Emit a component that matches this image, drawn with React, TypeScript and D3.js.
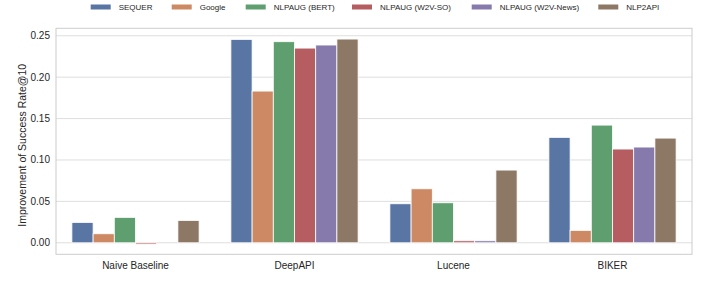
import * as d3 from 'd3';

const categories = ['Naive Baseline', 'DeepAPI', 'Lucene', 'BIKER'];
const methods = ['SEQUER', 'Google', 'NLPAUG (BERT)', 'NLPAUG (W2V-SO)', 'NLPAUG (W2V-News)', 'NLP2API'];
const colors = ['#5975a4', '#cc8963', '#5f9e6e', '#b55d60', '#857aab', '#8d7866'];

// one array per method, values in category order
const sequer = [0.0246, 0.2456, 0.0471, 0.1273];
const google = [0.0109, 0.1832, 0.0652, 0.015];
const nlpaugBert = [0.0307, 0.2428, 0.0483, 0.1421];
const nlpaugW2vSo = [-0.0016, 0.2351, 0.0024, 0.1132];
const nlpaugW2vNews = [0.0, 0.2388, 0.0024, 0.1156];
const nlp2api = [0.027, 0.246, 0.0878, 0.1264];
const series = [sequer, google, nlpaugBert, nlpaugW2vSo, nlpaugW2vNews, nlp2api];

const yTicks = [0, 0.05, 0.1, 0.15, 0.2, 0.25];

const W = 706;
const H = 283;
const plot = { left: 56, right: 692, top: 28.3, bottom: 254.3 };
const font = 'Liberation Sans, Arial, sans-serif';

// legend swatch positions
const legendX = [90.7, 171.7, 245.7, 352, 471.7, 598.3];

export default function App() {
  const x = d3.scaleBand<string>().domain(categories).range([plot.left, plot.right]);
  const inner = d3
    .scaleBand<string>()
    .domain(methods)
    .range([x.bandwidth() * 0.1, x.bandwidth() * 0.9]);
  const y = d3.scaleLinear().domain([-0.0139, 0.259]).range([plot.bottom, plot.top]);

  return (
    <svg width={W} height={H} style={{ position: 'absolute', left: 0, top: 0 }} fontFamily={font}>
      <rect width={W} height={H} fill="#fff" />

      {/* grid */}
      {yTicks.map((t) => (
        <g key={t}>
          <line x1={plot.left} x2={plot.right} y1={y(t)} y2={y(t)} stroke="#dedede" strokeWidth={1} />
          <text x={plot.left - 6} y={y(t)} dy="0.35em" textAnchor="end" fontSize={10} fill="#262626">
            {t.toFixed(2)}
          </text>
        </g>
      ))}

      {/* bars */}
      {series.map((vals, si) =>
        vals.map((v, ci) => {
          const x0 = (x(categories[ci]) ?? 0) + (inner(methods[si]) ?? 0);
          const y0 = y(Math.max(0, v));
          const h = Math.abs(y(v) - y(0));
          return (
            <rect
              key={`${si}-${ci}`}
              x={x0}
              y={y0}
              width={inner.bandwidth()}
              height={h}
              fill={colors[si]}
              stroke="#ffffff"
              strokeWidth={0.8}
            />
          );
        })
      )}

      {/* frame */}
      <rect
        x={plot.left}
        y={plot.top}
        width={plot.right - plot.left}
        height={plot.bottom - plot.top}
        fill="none"
        stroke="#cccccc"
        strokeWidth={1}
      />

      {/* x labels */}
      {categories.map((c) => (
        <text
          key={c}
          x={(x(c) ?? 0) + x.bandwidth() / 2}
          y={268.5}
          textAnchor="middle"
          fontSize={10}
          fill="#262626"
        >
          {c}
        </text>
      ))}

      {/* y label */}
      <text
        transform={`translate(25.5,${(plot.top + plot.bottom) / 2 + 4}) rotate(-90)`}
        textAnchor="middle"
        fontSize={10.5}
        fill="#262626"
      >
        Improvement of Success Rate@10
      </text>

      {/* legend */}
      {methods.map((m, i) => (
        <g key={m}>
          <rect x={legendX[i]} y={4.5} width={20} height={5} fill={colors[i]} />
          <text x={legendX[i] + 28} y={7.3} dy="0.35em" fontSize={8} fill="#262626">
            {m}
          </text>
        </g>
      ))}
    </svg>
  );
}
